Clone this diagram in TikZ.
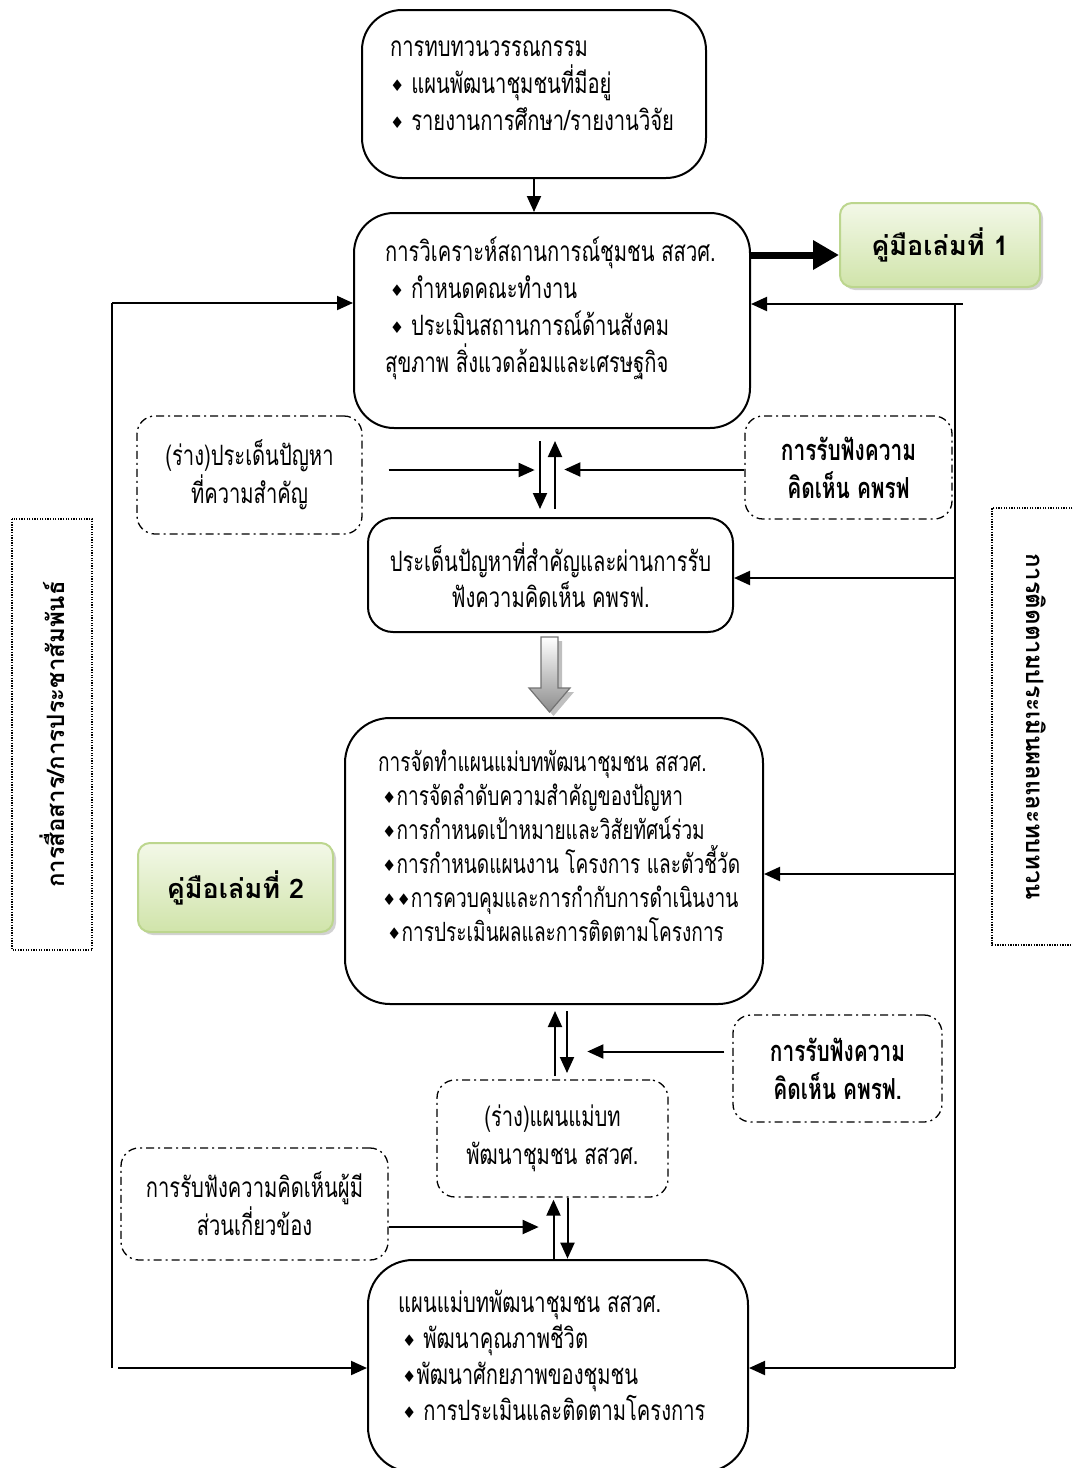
\documentclass[tikz,border=0pt]{standalone}
\usepackage{fontspec}
\usetikzlibrary{arrows.meta,shadows}
\newfontfamily\thai[Script=Thai,FakeStretch=0.72]{Loma}
\newfontfamily\thaiwide[Script=Thai]{Loma}
\newfontfamily\symb{DejaVu Sans}
\newcommand{\bul}{\raisebox{2pt}{\symb\fontsize{16}{16}\selectfont ♦}}
\definecolor{mantop}{HTML}{F3F8E8}
\definecolor{manbot}{HTML}{D0E4AA}
\definecolor{manedge}{HTML}{BCD68E}

\begin{document}
\begin{tikzpicture}[x=1pt, y=-1pt,
    box/.style={draw, line width=2pt, rounded corners=40pt},
    dashbox/.style={draw, line width=1.3pt, rounded corners=18pt, dash pattern=on 8pt off 4pt on 2pt off 4pt, align=center, font=\thai\fontsize{28}{38}\selectfont},
    dotbox/.style={draw, line width=1.3pt, dash pattern=on 1.3pt off 1.3pt, font=\thaiwide\bfseries\fontsize{24}{28}\selectfont},
    manual/.style={draw=manedge, line width=2pt, rounded corners=12pt, top color=mantop, bottom color=manbot, drop shadow={shadow xshift=3pt, shadow yshift=-3pt, fill=black!35}, font=\thaiwide\bfseries\fontsize{27}{30}\selectfont},
    txt/.style={align=left, inner sep=0pt, font=\thai\fontsize{28}{37}\selectfont},
    arr/.style={line width=2pt, -{Triangle[length=16pt,width=14pt]}},
    bigarr/.style={line width=7pt, -{Triangle[length=26pt,width=28pt]}},
    bus/.style={line width=1.5pt}]
    \useasboundingbox (0,0) rectangle (1072,1468);

    % main boxes
    \node[box, minimum width=344pt, minimum height=168pt] (rev) at (534,94) {};
    \node[txt, anchor=west] (revt) at (390,86) {การทบทวนวรรณกรรม\\ \bul\ แผนพัฒนาชุมชนที่มีอยู่\\ \bul\ รายงานการศึกษา/รายงานวิจัย};
    \node[box, minimum width=396pt, minimum height=215pt] (ana) at (552,320.5) {};
    \node[txt, anchor=west] (anat) at (385,308) {การวิเคราะห์สถานการณ์ชุมชน สสวศ.\\ \,\bul\ กำหนดคณะทำงาน\\ \,\bul\ ประเมินสถานการณ์ด้านสังคม\\ สุขภาพ สิ่งแวดล้อมและเศรษฐกิจ};
    \node[box, rounded corners=25pt, minimum width=365pt, minimum height=114pt, align=center, font=\thai\fontsize{28}{36}\selectfont] (iss) at (550.5,575) {ประเด็นปัญหาที่สำคัญและผ่านการรับ\\ฟังความคิดเห็น คพรฟ.};
    \node[box, rounded corners=45pt, minimum width=418pt, minimum height=286pt] (plan) at (554,861) {};
    \node[txt, anchor=west, font=\thai\fontsize{26.5}{34}\selectfont] (plant) at (378,846) {การจัดทำแผนแม่บทพัฒนาชุมชน สสวศ.\\ \hspace{4pt}\bul การจัดลำดับความสำคัญของปัญหา\\ \hspace{4pt}\bul การกำหนดเป้าหมายและวิสัยทัศน์ร่วม\\ \hspace{4pt}\bul การกำหนดแผนงาน โครงการ และตัวชี้วัด\\ \hspace{4pt}\bul\bul การควบคุมและการกำกับการดำเนินงาน\\ \hspace{9pt}\bul การประเมินผลและการติดตามโครงการ};
    \node[box, rounded corners=45pt, minimum width=380pt, minimum height=212pt] (master) at (558,1366) {};
    \node[txt, anchor=west, font=\thai\fontsize{28}{36}\selectfont] (mastert) at (398,1355) {แผนแม่บทพัฒนาชุมชน สสวศ.\\ \hspace{4pt}\bul\ พัฒนาคุณภาพชีวิต\\ \hspace{4pt}\bul พัฒนาศักยภาพของชุมชน\\ \hspace{4pt}\bul\ การประเมินและติดตามโครงการ};

    % side boxes
    \node[manual, minimum width=200pt, minimum height=84pt] (man1) at (940,245) {คู่มือเล่มที่ 1};
    \node[manual, minimum width=195pt, minimum height=89pt] (man2) at (235.5,887.5) {คู่มือเล่มที่ 2};
    \node[dashbox, minimum width=225pt, minimum height=118pt] (drft) at (249.5,475) {(ร่าง)ประเด็นปัญหา\\ที่ความสำคัญ};
    \node[dashbox, minimum width=207pt, minimum height=103pt, font=\thai\bfseries\fontsize{29}{38}\selectfont] (hear1) at (848.5,467.5) {การรับฟังความ\\คิดเห็น คพรฟ};
    \node[dashbox, minimum width=209pt, minimum height=107pt, font=\thai\bfseries\fontsize{29}{38}\selectfont] (hear2) at (837.5,1068.5) {การรับฟังความ\\คิดเห็น คพรฟ.};
    \node[dashbox, minimum width=231pt, minimum height=117pt] (dplan) at (552.5,1138.5) {(ร่าง)แผนแม่บท\\พัฒนาชุมชน สสวศ.};
    \node[dashbox, minimum width=267pt, minimum height=112pt] (stake) at (254.5,1204) {การรับฟังความคิดเห็นผู้มี\\ส่วนเกี่ยวข้อง};
    \node[dotbox, rotate=90, minimum width=431pt, minimum height=80pt] (comm) at (52,734.5) {การสื่อสาร/การประชาสัมพันธ์};
    \node[dotbox, rotate=-90, minimum width=437pt, minimum height=88pt] (mon) at (1036,726.5) {การติดตามประเมินผลและทบทวน};

    % connectors
    \draw[arr] (rev.south) -- (rev.south |- ana.north);
    \draw[bigarr] (ana.east |- 0,255) -- (man1.west |- 0,255);
    \draw[arr] ([xshift=-12pt,yshift=-12pt]ana.south) -- ++(0,68);
    \draw[arr] ([xshift=3pt,yshift=-80pt]ana.south) -- ++(0,-68);
    \draw[arr] ([xshift=26pt,yshift=5pt]drft.east) -- ++(146,0);
    \draw[arr] ([yshift=-2pt]hear1.west) -- ++(-180,0);
    \draw[arr] ([xshift=1pt,yshift=-71pt]plan.south) -- ++(0,-65);
    \draw[arr] ([xshift=13pt,yshift=-6pt]plan.south) -- ++(0,62);
    \draw[arr] ([xshift=-8pt,yshift=17pt]hear2.west) -- ++(-137,0);
    \draw[arr] ([xshift=1pt,yshift=-63pt]dplan.south) -- ++(0,-61);
    \draw[arr] ([xshift=15pt]dplan.south) -- ++(0,61);
    \draw[arr] ([yshift=-23pt]stake.east) -- ++(150,0);

    % block arrow
    \fill[black!25] (545,641) -- (562,641) -- (562,692) -- (574,692) -- (553.5,716) -- (533,692) -- (545,692) -- cycle;
    \shade[top color=white, bottom color=black!45, draw=black!55, line width=1.2pt] (541,637) -- (558,637) -- (558,688) -- (570,688) -- (549.5,712) -- (529,688) -- (541,688) -- cycle;

    % feedback lines
    \coordinate (rtop) at (955,304);
    \coordinate (rbot) at (955,1368);
    \coordinate (ltop) at (112,303);
    \coordinate (lbot) at (112,1368);
    \draw[bus] (rbot) -- (rtop) -- ++(8,0);
    \draw[arr] (rtop) -- (rtop -| ana.east);
    \draw[arr] (rtop |- 0,578) -- (iss.east |- 0,578);
    \draw[arr] (rtop |- 0,874) -- (plan.east |- 0,874);
    \draw[arr] (rbot) -- (rbot -| master.east);
    \draw[bus] (lbot) -- (ltop);
    \draw[arr] (ltop) -- (ltop -| ana.west);
    \draw[arr] ([xshift=6pt]lbot) -- (lbot -| master.west);
\end{tikzpicture}
\end{document}
